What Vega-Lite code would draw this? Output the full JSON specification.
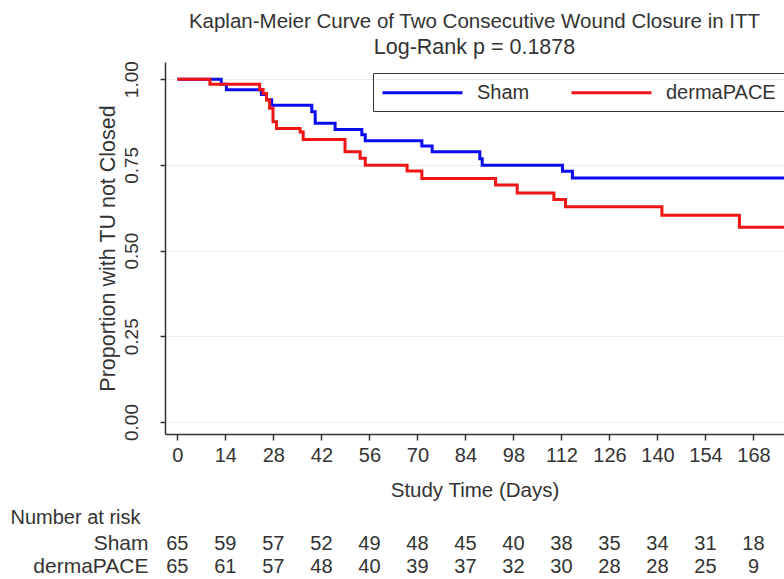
{
  "$schema": "https://vega.github.io/schema/vega-lite/v6.json",
  "padding": {"left": 10, "top": 11, "right": 0, "bottom": 0},
  "background": "white",
  "config": {
    "font": "Liberation Sans",
    "view": {"stroke": null},
    "concat": {"spacing": 6}
  },
  "vconcat": [
    {
      "width": 619,
      "height": 372,
      "title": {
        "text": "Kaplan-Meier Curve of Two Consecutive Wound Closure in ITT",
        "subtitle": "Log-Rank p = 0.1878",
        "fontSize": 20.5,
        "subtitleFontSize": 21.5,
        "fontWeight": "normal",
        "color": "#333333",
        "subtitleColor": "#333333",
        "anchor": "middle",
        "offset": 2,
        "subtitlePadding": 5
      },
      "data": {
        "values": [
          {"group": "Sham", "day": 0, "surv": 1.0},
          {"group": "Sham", "day": 12.8, "surv": 0.985},
          {"group": "Sham", "day": 14.3, "surv": 0.969},
          {"group": "Sham", "day": 24.5, "surv": 0.955},
          {"group": "Sham", "day": 26, "surv": 0.94},
          {"group": "Sham", "day": 27.5, "surv": 0.924},
          {"group": "Sham", "day": 39.2, "surv": 0.905},
          {"group": "Sham", "day": 40.2, "surv": 0.871},
          {"group": "Sham", "day": 46, "surv": 0.853},
          {"group": "Sham", "day": 53.8, "surv": 0.838},
          {"group": "Sham", "day": 54.8, "surv": 0.82},
          {"group": "Sham", "day": 71.3, "surv": 0.805},
          {"group": "Sham", "day": 74.3, "surv": 0.788},
          {"group": "Sham", "day": 88.2, "surv": 0.768},
          {"group": "Sham", "day": 88.9, "surv": 0.749},
          {"group": "Sham", "day": 112.3, "surv": 0.731},
          {"group": "Sham", "day": 115.2, "surv": 0.712},
          {"group": "Sham", "day": 176.9, "surv": 0.712},
          {"group": "dermaPACE", "day": 0, "surv": 1.0},
          {"group": "dermaPACE", "day": 9.5, "surv": 0.985},
          {"group": "dermaPACE", "day": 24, "surv": 0.97},
          {"group": "dermaPACE", "day": 25, "surv": 0.958},
          {"group": "dermaPACE", "day": 26, "surv": 0.939},
          {"group": "dermaPACE", "day": 26.9, "surv": 0.915},
          {"group": "dermaPACE", "day": 27.9, "surv": 0.876},
          {"group": "dermaPACE", "day": 28.9, "surv": 0.856},
          {"group": "dermaPACE", "day": 35.8, "surv": 0.846},
          {"group": "dermaPACE", "day": 36.7, "surv": 0.824},
          {"group": "dermaPACE", "day": 48.9, "surv": 0.788},
          {"group": "dermaPACE", "day": 53.3, "surv": 0.769},
          {"group": "dermaPACE", "day": 54.8, "surv": 0.749},
          {"group": "dermaPACE", "day": 67, "surv": 0.732},
          {"group": "dermaPACE", "day": 71.3, "surv": 0.71},
          {"group": "dermaPACE", "day": 92.8, "surv": 0.691},
          {"group": "dermaPACE", "day": 99.1, "surv": 0.668},
          {"group": "dermaPACE", "day": 109.8, "surv": 0.649},
          {"group": "dermaPACE", "day": 113.2, "surv": 0.628},
          {"group": "dermaPACE", "day": 141.3, "surv": 0.603},
          {"group": "dermaPACE", "day": 163.9, "surv": 0.568},
          {"group": "dermaPACE", "day": 176.9, "surv": 0.568}
        ]
      },
      "mark": {"type": "line", "interpolate": "step-after", "strokeWidth": 3, "clip": true},
      "encoding": {
        "x": {
          "field": "day",
          "type": "quantitative",
          "scale": {"domain": [-3.6, 176.9], "nice": false, "zero": false},
          "axis": {
            "values": [0, 14, 28, 42, 56, 70, 84, 98, 112, 126, 140, 154, 168],
            "title": "Study Time (Days)",
            "grid": false,
            "domainColor": "#333333",
            "domainWidth": 1.5,
            "tickColor": "#333333",
            "tickWidth": 1.5,
            "tickSize": 6,
            "labelFontSize": 20,
            "labelColor": "#333333",
            "labelPadding": 5,
            "labelFlush": false,
            "titleFontSize": 20.5,
            "titleFontWeight": "normal",
            "titleColor": "#333333",
            "titlePadding": 15
          }
        },
        "y": {
          "field": "surv",
          "type": "quantitative",
          "scale": {"domain": [-0.035, 1.05], "nice": false, "zero": false},
          "axis": {
            "values": [0, 0.25, 0.5, 0.75, 1],
            "format": ".2f",
            "title": "Proportion with TU not Closed",
            "grid": true,
            "gridColor": "#ececec",
            "gridWidth": 1,
            "domainColor": "#333333",
            "domainWidth": 1.5,
            "tickColor": "#333333",
            "tickWidth": 1.5,
            "tickSize": 5,
            "labelAngle": -90,
            "labelAlign": "center",
            "labelBaseline": "bottom",
            "labelFontSize": 19,
            "labelColor": "#333333",
            "labelPadding": 19,
            "titleFontSize": 21.5,
            "titleFontWeight": "normal",
            "titleColor": "#333333",
            "titlePadding": 3
          }
        },
        "color": {
          "field": "group",
          "type": "nominal",
          "scale": {"domain": ["Sham", "dermaPACE"], "range": ["#0a0af0", "#f01414"]},
          "legend": {
            "orient": "none",
            "legendX": 208,
            "legendY": 11,
            "direction": "horizontal",
            "title": null,
            "symbolType": "M-4,0H4",
            "symbolSize": 400,
            "symbolStrokeWidth": 3,
            "symbolOffset": 30,
            "labelFontSize": 20,
            "labelColor": "#333333",
            "labelOffset": 43,
            "columnPadding": 35,
            "strokeColor": "#333333",
            "padding": 8
          }
        }
      }
    },
    {
      "width": 619,
      "height": 46,
      "data": {
        "values": [
          {"group": "Sham", "day": 0, "n": 65},
          {"group": "Sham", "day": 14, "n": 59},
          {"group": "Sham", "day": 28, "n": 57},
          {"group": "Sham", "day": 42, "n": 52},
          {"group": "Sham", "day": 56, "n": 49},
          {"group": "Sham", "day": 70, "n": 48},
          {"group": "Sham", "day": 84, "n": 45},
          {"group": "Sham", "day": 98, "n": 40},
          {"group": "Sham", "day": 112, "n": 38},
          {"group": "Sham", "day": 126, "n": 35},
          {"group": "Sham", "day": 140, "n": 34},
          {"group": "Sham", "day": 154, "n": 31},
          {"group": "Sham", "day": 168, "n": 18},
          {"group": "dermaPACE", "day": 0, "n": 65},
          {"group": "dermaPACE", "day": 14, "n": 61},
          {"group": "dermaPACE", "day": 28, "n": 57},
          {"group": "dermaPACE", "day": 42, "n": 48},
          {"group": "dermaPACE", "day": 56, "n": 40},
          {"group": "dermaPACE", "day": 70, "n": 39},
          {"group": "dermaPACE", "day": 84, "n": 37},
          {"group": "dermaPACE", "day": 98, "n": 32},
          {"group": "dermaPACE", "day": 112, "n": 30},
          {"group": "dermaPACE", "day": 126, "n": 28},
          {"group": "dermaPACE", "day": 140, "n": 28},
          {"group": "dermaPACE", "day": 154, "n": 25},
          {"group": "dermaPACE", "day": 168, "n": 9}
        ]
      },
      "mark": {"type": "text", "fontSize": 20, "color": "#333333"},
      "encoding": {
        "x": {
          "field": "day",
          "type": "quantitative",
          "scale": {"domain": [-3.6, 176.9], "nice": false, "zero": false},
          "axis": null
        },
        "y": {
          "field": "group",
          "type": "nominal",
          "scale": {"domain": ["Sham", "dermaPACE"]},
          "axis": {
            "title": "Number at risk",
            "titleAngle": 0,
            "titleAlign": "left",
            "titleBaseline": "middle",
            "titleX": -155,
            "titleY": -15,
            "titleFontSize": 20,
            "titleFontWeight": "normal",
            "titleColor": "#333333",
            "domain": false,
            "ticks": false,
            "grid": false,
            "labelPadding": 17,
            "labelFontSize": 21,
            "labelColor": "#333333"
          }
        },
        "text": {"field": "n", "type": "quantitative"}
      }
    }
  ],
  "resolve": {"scale": {"x": "independent", "y": "independent", "color": "independent"}}
}
